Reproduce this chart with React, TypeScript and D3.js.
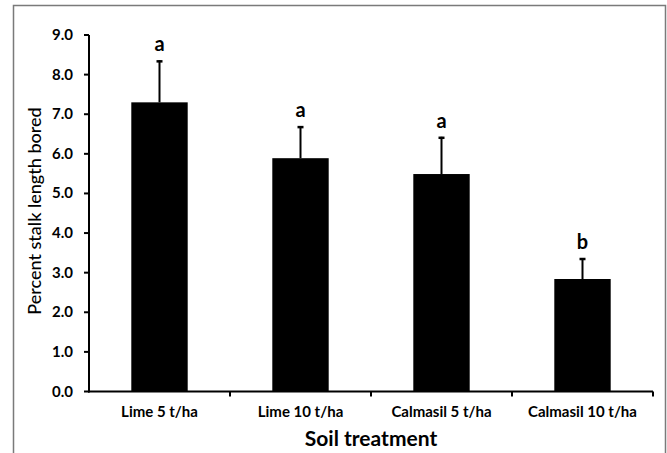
import React from "react";
import * as d3 from "d3";

const categories = ["Lime 5 t/ha", "Lime 10 t/ha", "Calmasil 5 t/ha", "Calmasil 10 t/ha"];
const means = [7.3, 5.89, 5.49, 2.84];
const errors = [1.06, 0.81, 0.94, 0.53];
const letters = ["a", "a", "a", "b"];
const yTicks = [0, 1, 2, 3, 4, 5, 6, 7, 8, 9];

const W = 667;
const H = 453;
const FONT = "Lato, 'Open Sans', sans-serif";

export default function App() {
  const left = 89;
  const right = 653;
  const top = 35;
  const bottom = 391.5;

  const x = d3.scaleBand<string>().domain(categories).range([left, right]).paddingInner(0.6).paddingOuter(0.3);
  const y = d3.scaleLinear().domain([0, 9]).range([bottom, top]);
  const bounds = d3.range(categories.length + 1).map((i) => left + (i * (right - left)) / categories.length);

  return (
    <div style={{ position: "absolute", left: 0, top: 0, width: W, height: H, background: "#fff" }}>
      <svg width={W} height={H} style={{ display: "block" }}>
        <rect x={0} y={0} width={W} height={H} fill="#fff" />
        <path d={`M13.5,${H + 5} V5.5 H665.5 V${H + 5}`} fill="none" stroke="#7a7a7a" strokeWidth={1.5} />
        {categories.map((c, i) => {
          const bx = x(c)!;
          const bw = x.bandwidth();
          const cx = bx + bw / 2;
          const eTop = y(means[i] + errors[i]);
          return (
            <g key={c}>
              <rect x={bx} y={y(means[i])} width={bw} height={y(0) - y(means[i])} fill="#000" />
              <line x1={cx} x2={cx} y1={y(means[i])} y2={eTop} stroke="#000" strokeWidth={2} />
              <line x1={cx - 3} x2={cx + 3} y1={eTop + 1} y2={eTop + 1} stroke="#000" strokeWidth={2.5} />
              <text x={cx} y={eTop - 9} textAnchor="middle" fontFamily={FONT} fontWeight="bold" fontSize={20} fill="#000">
                {letters[i]}
              </text>
              <text x={cx} y={417} textAnchor="middle" fontFamily={FONT} fontWeight="bold" fontSize={15} fill="#000">
                {c}
              </text>
            </g>
          );
        })}
        <line x1={left} x2={left} y1={top} y2={bottom + 1} stroke="#000" strokeWidth={2} />
        <line x1={left - 1} x2={right} y1={bottom} y2={bottom} stroke="#000" strokeWidth={2} />
        {yTicks.map((t) => (
          <g key={t}>
            <line x1={left - 5} x2={left} y1={y(t)} y2={y(t)} stroke="#000" strokeWidth={2} />
            <text x={73} y={y(t) + 5} textAnchor="end" fontFamily={FONT} fontWeight="bold" fontSize={15} fill="#000">
              {t.toFixed(1)}
            </text>
          </g>
        ))}
        {bounds.slice(1).map((b, i) => (
          <line key={i} x1={b} x2={b} y1={bottom} y2={bottom + 5} stroke="#000" strokeWidth={2} />
        ))}
        <text
          transform={`translate(41,211) rotate(-90)`}
          textAnchor="middle"
          fontFamily={FONT}
          fontWeight={500}
          fontSize={18}
          fill="#000"
        >
          Percent stalk length bored
        </text>
        <text x={(left + right) / 2} y={446} textAnchor="middle" fontFamily={FONT} fontWeight="bold" fontSize={21} fill="#000">
          Soil treatment
        </text>
      </svg>
    </div>
  );
}
